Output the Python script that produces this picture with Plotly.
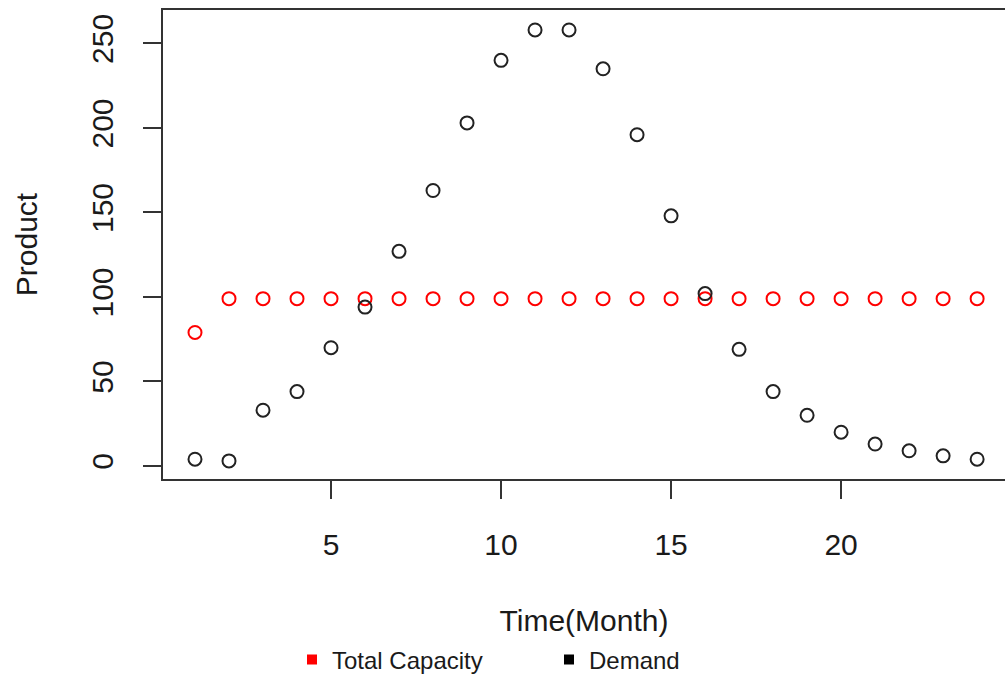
import plotly.graph_objects as go

# Monthly series
months = list(range(1, 25))
total_capacity = [79, 99, 99, 99, 99, 99, 99, 99, 99, 99, 99, 99,
                  99, 99, 99, 99, 99, 99, 99, 99, 99, 99, 99, 99]
demand = [4, 3, 33, 44, 70, 94, 127, 163, 203, 240, 258, 258,
          235, 196, 148, 102, 69, 44, 30, 20, 13, 9, 6, 4]

x_ticks = [5, 10, 15, 20]
y_ticks = [0, 50, 100, 150, 200, 250]

FONT = "Liberation Sans, Arial, sans-serif"
INK = "#1a1a1a"

fig = go.Figure()

# Data points (open circles)
fig.add_trace(go.Scatter(
    x=months, y=total_capacity, mode="markers", name="Total Capacity",
    legendgroup="cap", showlegend=False,
    marker=dict(symbol="circle-open", size=13, color="#ff0000",
                line=dict(width=2, color="#ff0000")),
))
fig.add_trace(go.Scatter(
    x=months, y=demand, mode="markers", name="Demand",
    legendgroup="dem", showlegend=False,
    marker=dict(symbol="circle-open", size=13, color="#222222",
                line=dict(width=2, color="#222222")),
))

# Legend keys as small filled squares
fig.add_trace(go.Scatter(
    x=[None], y=[None], mode="markers", name="Total Capacity",
    legendgroup="cap",
    marker=dict(symbol="square", size=10, color="#ff0000"),
))
fig.add_trace(go.Scatter(
    x=[None], y=[None], mode="markers", name="Demand",
    legendgroup="dem",
    marker=dict(symbol="square", size=10, color="#000000"),
))

axis_common = dict(
    showgrid=False, zeroline=False,
    showline=True, linewidth=2, linecolor="#333333",
    ticks="outside", ticklen=18, tickwidth=1.5, tickcolor="#333333",
    tickfont=dict(family=FONT, size=30, color=INK),
)

fig.update_xaxes(
    range=[0.059, 24.82], tickvals=x_ticks, mirror=True,
    ticklabelstandoff=20,
    title=dict(text="Time(Month)", font=dict(family=FONT, size=30, color=INK),
               standoff=50),
    **axis_common,
)
fig.update_yaxes(
    range=[-7.7, 269.8], tickvals=y_ticks, tickangle=-90, mirror=False,
    ticklabelstandoff=18,
    title=dict(text="Product", font=dict(family=FONT, size=30, color=INK),
               standoff=40),
    **axis_common,
)

fig.update_layout(
    width=1005, height=679,
    margin=dict(l=163, r=0, t=10, b=200),
    paper_bgcolor="white", plot_bgcolor="white",
    font=dict(family=FONT, color=INK),
    legend=dict(
        orientation="h", xref="container", yref="container",
        x=292 / 1005, y=1 - 660 / 679, xanchor="left", yanchor="middle",
        font=dict(family=FONT, size=24, color=INK),
        itemwidth=30, entrywidth=212, entrywidthmode="pixels",
        bgcolor="rgba(0,0,0,0)", borderwidth=0,
    ),
)

fig.write_html("out.html")
